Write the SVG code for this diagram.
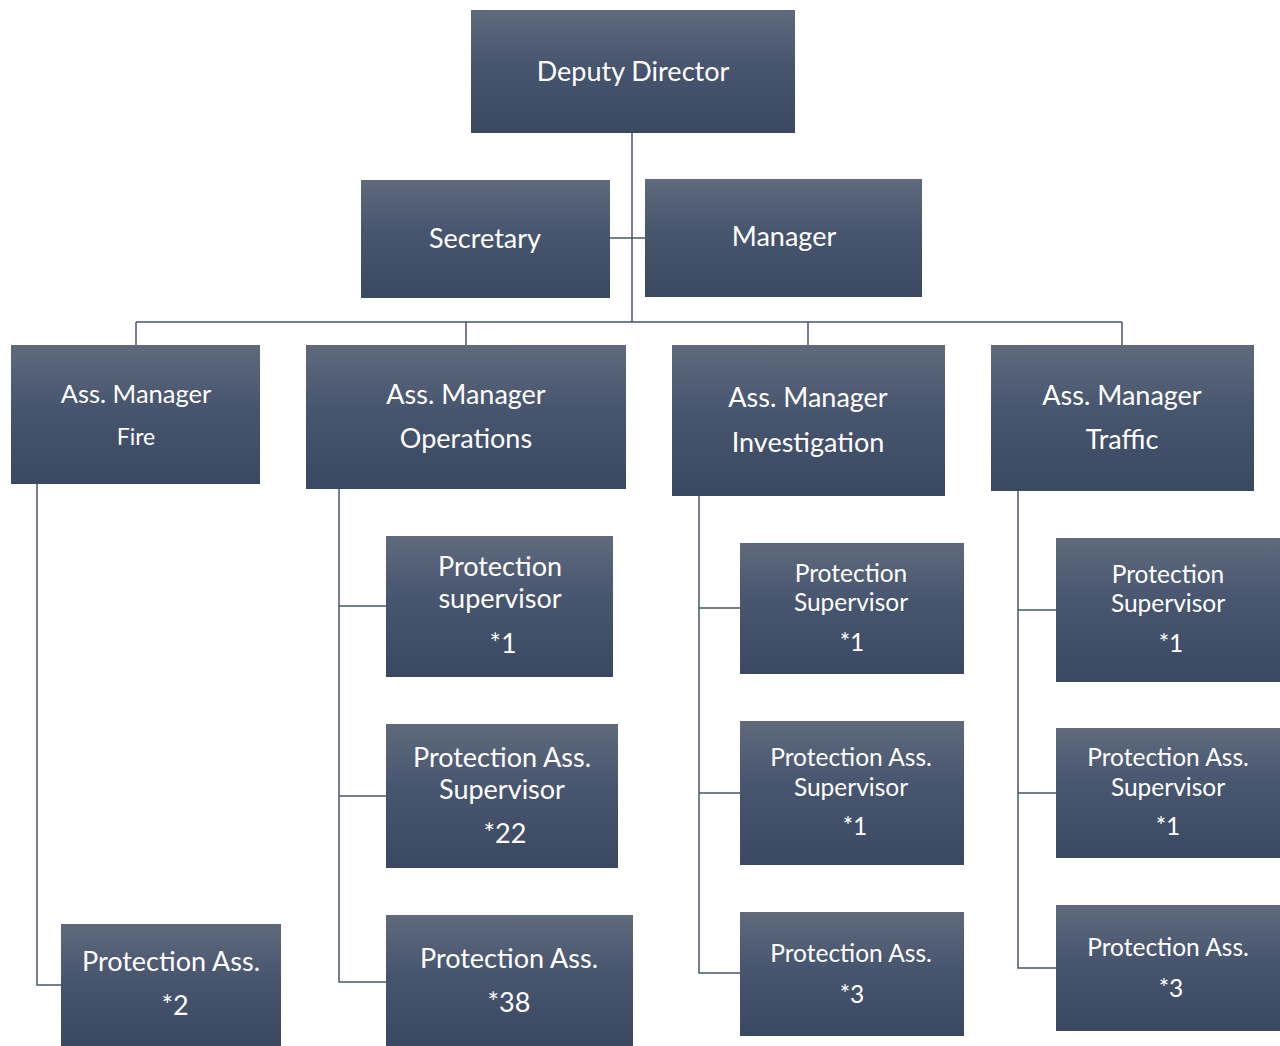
<svg xmlns="http://www.w3.org/2000/svg" width="1280" height="1046" viewBox="0 0 1280 1046">
  <defs>
    <linearGradient id="boxFill" x1="0" y1="0" x2="0" y2="1">
      <stop offset="0" stop-color="#5f6a7c"/>
      <stop offset="0.45" stop-color="#47556f"/>
      <stop offset="1" stop-color="#3a4861"/>
    </linearGradient>
  </defs>
  <style>
    .box { fill: url(#boxFill); }
    .lbl { font-family: Lato, "Open Sans", "Liberation Sans", sans-serif; fill: #ffffff; text-anchor: middle; }
    .l24 { font-size: 27px; }
    .l22 { font-size: 24.5px; }
    .fa { font-size: 25.5px; }
    .fb { font-size: 23px; }
    .wire { fill: none; stroke: #4a566c; stroke-width: 1.5; }
  </style>
  <rect width="1280" height="1046" fill="#ffffff"/>

  <g id="connectors">
    <!-- top trunk and staff branch -->
    <path class="wire" d="M632 133 V322 M610 238 H645"/>
    <!-- division bus -->
    <path class="wire" d="M136 322 H1122 M136 322 V345 M466 322 V345 M808 322 V345 M1122 322 V345"/>
    <!-- Fire -->
    <path class="wire" d="M37 484 V985 H61"/>
    <!-- Operations -->
    <path class="wire" d="M339 489 V982 H386 M339 606 H386 M339 796 H386"/>
    <!-- Investigation -->
    <path class="wire" d="M699 496 V973 H740 M699 608 H740 M699 793 H740"/>
    <!-- Traffic -->
    <path class="wire" d="M1018 491 V968 H1056 M1018 610 H1056 M1018 793 H1056"/>
  </g>

  <g id="deputy-director">
    <rect class="box" x="471" y="10" width="324" height="123"/>
    <text class="lbl l24" x="633" y="81">Deputy Director</text>
  </g>
  <g id="secretary">
    <rect class="box" x="361" y="180" width="249" height="118"/>
    <text class="lbl l24" x="485" y="248">Secretary</text>
  </g>
  <g id="manager">
    <rect class="box" x="645" y="179" width="277" height="118"/>
    <text class="lbl l24" x="784" y="246">Manager</text>
  </g>

  <g id="am-fire">
    <rect class="box" x="11" y="345" width="249" height="139"/>
    <text class="lbl fa" x="136" y="403">Ass. Manager</text>
    <text class="lbl fb" x="136" y="445">Fire</text>
  </g>
  <g id="am-operations">
    <rect class="box" x="306" y="345" width="320" height="144"/>
    <text class="lbl l24" x="466" y="404">Ass. Manager</text>
    <text class="lbl l24" x="466" y="448">Operations</text>
  </g>
  <g id="am-investigation">
    <rect class="box" x="672" y="345" width="273" height="151"/>
    <text class="lbl l24" x="808" y="407">Ass. Manager</text>
    <text class="lbl l24" x="808" y="452">Investigation</text>
  </g>
  <g id="am-traffic">
    <rect class="box" x="991" y="345" width="263" height="146"/>
    <text class="lbl l24" x="1122" y="405">Ass. Manager</text>
    <text class="lbl l24" x="1122" y="449">Traffic</text>
  </g>

  <g id="fire-pa">
    <rect class="box" x="61" y="924" width="220" height="122"/>
    <text class="lbl l24" x="171" y="971">Protection Ass.</text>
    <text class="lbl l24" x="175" y="1015">*2</text>
  </g>

  <g id="ops-ps">
    <rect class="box" x="386" y="536" width="227" height="141"/>
    <text class="lbl l24" x="500" y="576">Protection</text>
    <text class="lbl l24" x="500" y="608">supervisor</text>
    <text class="lbl l24" x="503" y="653">*1</text>
  </g>
  <g id="ops-pas">
    <rect class="box" x="386" y="724" width="232" height="144"/>
    <text class="lbl l24" x="502" y="767">Protection Ass.</text>
    <text class="lbl l24" x="502" y="799">Supervisor</text>
    <text class="lbl l24" x="505" y="843">*22</text>
  </g>
  <g id="ops-pa">
    <rect class="box" x="386" y="915" width="247" height="131"/>
    <text class="lbl l24" x="509" y="968">Protection Ass.</text>
    <text class="lbl l24" x="509" y="1012">*38</text>
  </g>

  <g id="inv-ps">
    <rect class="box" x="740" y="543" width="224" height="131"/>
    <text class="lbl l22" x="851" y="582">Protection</text>
    <text class="lbl l22" x="851" y="611">Supervisor</text>
    <text class="lbl l22" x="852" y="651">*1</text>
  </g>
  <g id="inv-pas">
    <rect class="box" x="740" y="721" width="224" height="144"/>
    <text class="lbl l22" x="851" y="766">Protection Ass.</text>
    <text class="lbl l22" x="851" y="796">Supervisor</text>
    <text class="lbl l22" x="855" y="835">*1</text>
  </g>
  <g id="inv-pa">
    <rect class="box" x="740" y="912" width="224" height="124"/>
    <text class="lbl l22" x="851" y="962">Protection Ass.</text>
    <text class="lbl l22" x="852" y="1003">*3</text>
  </g>

  <g id="trf-ps">
    <rect class="box" x="1056" y="538" width="224" height="144"/>
    <text class="lbl l22" x="1168" y="583">Protection</text>
    <text class="lbl l22" x="1168" y="612">Supervisor</text>
    <text class="lbl l22" x="1171" y="652">*1</text>
  </g>
  <g id="trf-pas">
    <rect class="box" x="1056" y="728" width="224" height="130"/>
    <text class="lbl l22" x="1168" y="766">Protection Ass.</text>
    <text class="lbl l22" x="1168" y="796">Supervisor</text>
    <text class="lbl l22" x="1168" y="835">*1</text>
  </g>
  <g id="trf-pa">
    <rect class="box" x="1056" y="905" width="224" height="126"/>
    <text class="lbl l22" x="1168" y="956">Protection Ass.</text>
    <text class="lbl l22" x="1171" y="997">*3</text>
  </g>
</svg>
